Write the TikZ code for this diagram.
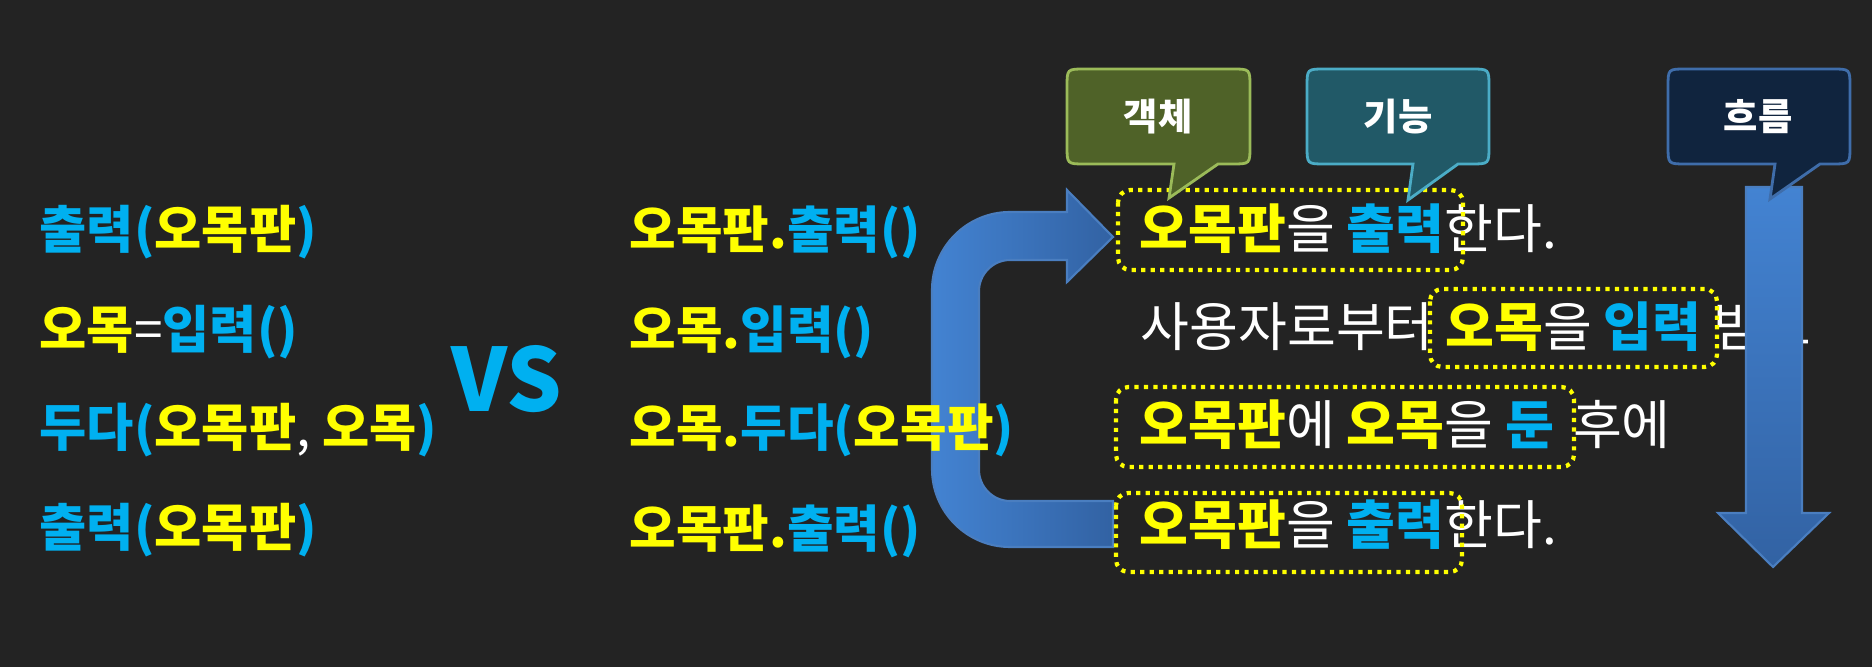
\documentclass[tikz,border=0pt]{standalone}
\usepackage{fontspec}
\newfontfamily\kr{Noto Sans CJK KR}
\definecolor{bg}{HTML}{232323}
\definecolor{kyel}{HTML}{FFFF00}
\definecolor{kblue}{HTML}{00B0F0}
\definecolor{cA}{HTML}{4383D2}
\definecolor{cB}{HTML}{3262A3}
\definecolor{cedge}{HTML}{4A7EC0}
\definecolor{objfill}{HTML}{4F6228}
\definecolor{objedge}{HTML}{9BBB59}
\definecolor{funfill}{HTML}{215967}
\definecolor{funedge}{HTML}{4BACC6}
\definecolor{flowfill}{HTML}{10243E}
\definecolor{flowedge}{HTML}{3F6DAA}
\newcommand\yel[1]{{\bfseries\color{kyel}#1}}
\newcommand\blu[1]{{\bfseries\color{kblue}#1}}
\begin{document}
\begin{tikzpicture}[x=0.1mm,y=-0.1mm,
  txt/.style={anchor=base west, inner sep=0pt, text=white, font=\kr\fontsize{14.6}{17}\selectfont},
  mtxt/.style={anchor=base west, inner sep=0pt, text=white, font=\kr\fontsize{14.4}{17}\selectfont},
  rtxt/.style={anchor=base west, inner sep=0pt, text=white, font=\kr\fontsize{15.1}{17}\selectfont},
  vs/.style={anchor=base west, inner sep=0pt, text=kblue, font=\kr\bfseries\fontsize{24.8}{28}\selectfont},
  btxt/.style={inner sep=0pt, text=white, font=\kr\bfseries\fontsize{10.6}{12}\selectfont},
  dotbox/.style={draw=kyel, line width=1.2pt, dash pattern=on 1.2pt off 1.5pt, rounded corners=3.5pt},
  bigarrow/.style={draw=cedge, line width=0.6pt},
  bubble/.style={line width=0.8pt},
]
\fill[bg] (0,0) rectangle (1872,667);
\useasboundingbox (0,0) rectangle (1872,667);

% C-shaped arrow
\path[bigarrow, left color=cA, right color=cB]
  (1113,547) -- (1010,547) .. controls (967,547) and (932,512) .. (932,469)
  -- (932,290) .. controls (932,247) and (967,212) .. (1010,212)
  -- (1067,212) -- (1067,190) -- (1113,237) -- (1067,282) -- (1067,260)
  -- (1010,260) .. controls (993,260) and (979,274) .. (979,291)
  -- (979,470) .. controls (979,487) and (993,501) .. (1010,501)
  -- (1113,501) -- cycle;

% left column
\node[txt] (l1) at (39,249) {\blu{출력(}\yel{오목판}\blu{)}};
\node[txt] (l2) at (39,349) {\yel{오목}=\blu{입력()}};
\node[txt] (l3) at (39,447) {\blu{두다(}\yel{오목판}, \yel{오목}\blu{)}};
\node[txt] (l4) at (39,547) {\blu{출력(}\yel{오목판}\blu{)}};

\node[vs] (vs) at (451,412) {VS};

% middle column
\node[mtxt] (m1) at (629,249) {\yel{오목판.}\blu{출력()}};
\node[mtxt] (m2) at (629,349) {\yel{오목.}\blu{입력()}};
\node[mtxt] (m3) at (629,447) {\yel{오목.}\blu{두다(}\yel{오목판}\blu{)}};
\node[mtxt] (m4) at (629,548) {\yel{오목판.}\blu{출력()}};

% right column
\node[rtxt] (r1) at (1139,249) {\yel{오목판}을 \blu{출력}한다.};
\node[rtxt] (r2) at (1140,347) {사용자로부터 \yel{오목}을 \blu{입력} 받고};
\node[rtxt] (r3) at (1139,445) {\yel{오목판}에 \yel{오목}을 \blu{둔}\hspace{2pt} 후에};
\node[rtxt] (r4) at (1139,545) {\yel{오목판}을 \blu{출력}한다.};

\draw[dotbox] (1118,190) rectangle (1463,270);
\draw[dotbox] (1430,289) rectangle (1717,367);
\draw[dotbox] (1116,387) rectangle (1574,467);
\draw[dotbox] (1116,493) rectangle (1462,572);

% down arrow
\path[bigarrow, top color=cA, bottom color=cB]
  (1746,187) -- (1802,187) -- (1802,513) -- (1829,513) -- (1773,567)
  -- (1718,513) -- (1746,513) -- cycle;

% bubbles
\path[bubble, draw=objedge, fill=objfill]
  (1174,164) -- (1085,164) .. controls (1067,164) .. (1067,146)
  -- (1067,87) .. controls (1067,69) .. (1085,69)
  -- (1232,69) .. controls (1250,69) .. (1250,87)
  -- (1250,146) .. controls (1250,164) .. (1232,164)
  -- (1218,164) -- (1169,198) -- cycle;
\node[btxt] (obj) at (1158,117) {객체};

\path[bubble, draw=funedge, fill=funfill]
  (1413,164) -- (1325,164) .. controls (1307,164) .. (1307,146)
  -- (1307,87) .. controls (1307,69) .. (1325,69)
  -- (1471,69) .. controls (1489,69) .. (1489,87)
  -- (1489,146) .. controls (1489,164) .. (1471,164)
  -- (1458,164) -- (1408,200) -- cycle;
\node[btxt] (fun) at (1398,117) {기능};

\path[bubble, draw=flowedge, fill=flowfill]
  (1775,164) -- (1686,164) .. controls (1668,164) .. (1668,146)
  -- (1668,87) .. controls (1668,69) .. (1686,69)
  -- (1832,69) .. controls (1850,69) .. (1850,87)
  -- (1850,146) .. controls (1850,164) .. (1832,164)
  -- (1820,164) -- (1770,199) -- cycle;
\node[btxt] (flow) at (1758,117) {흐름};
\end{tikzpicture}
\end{document}
